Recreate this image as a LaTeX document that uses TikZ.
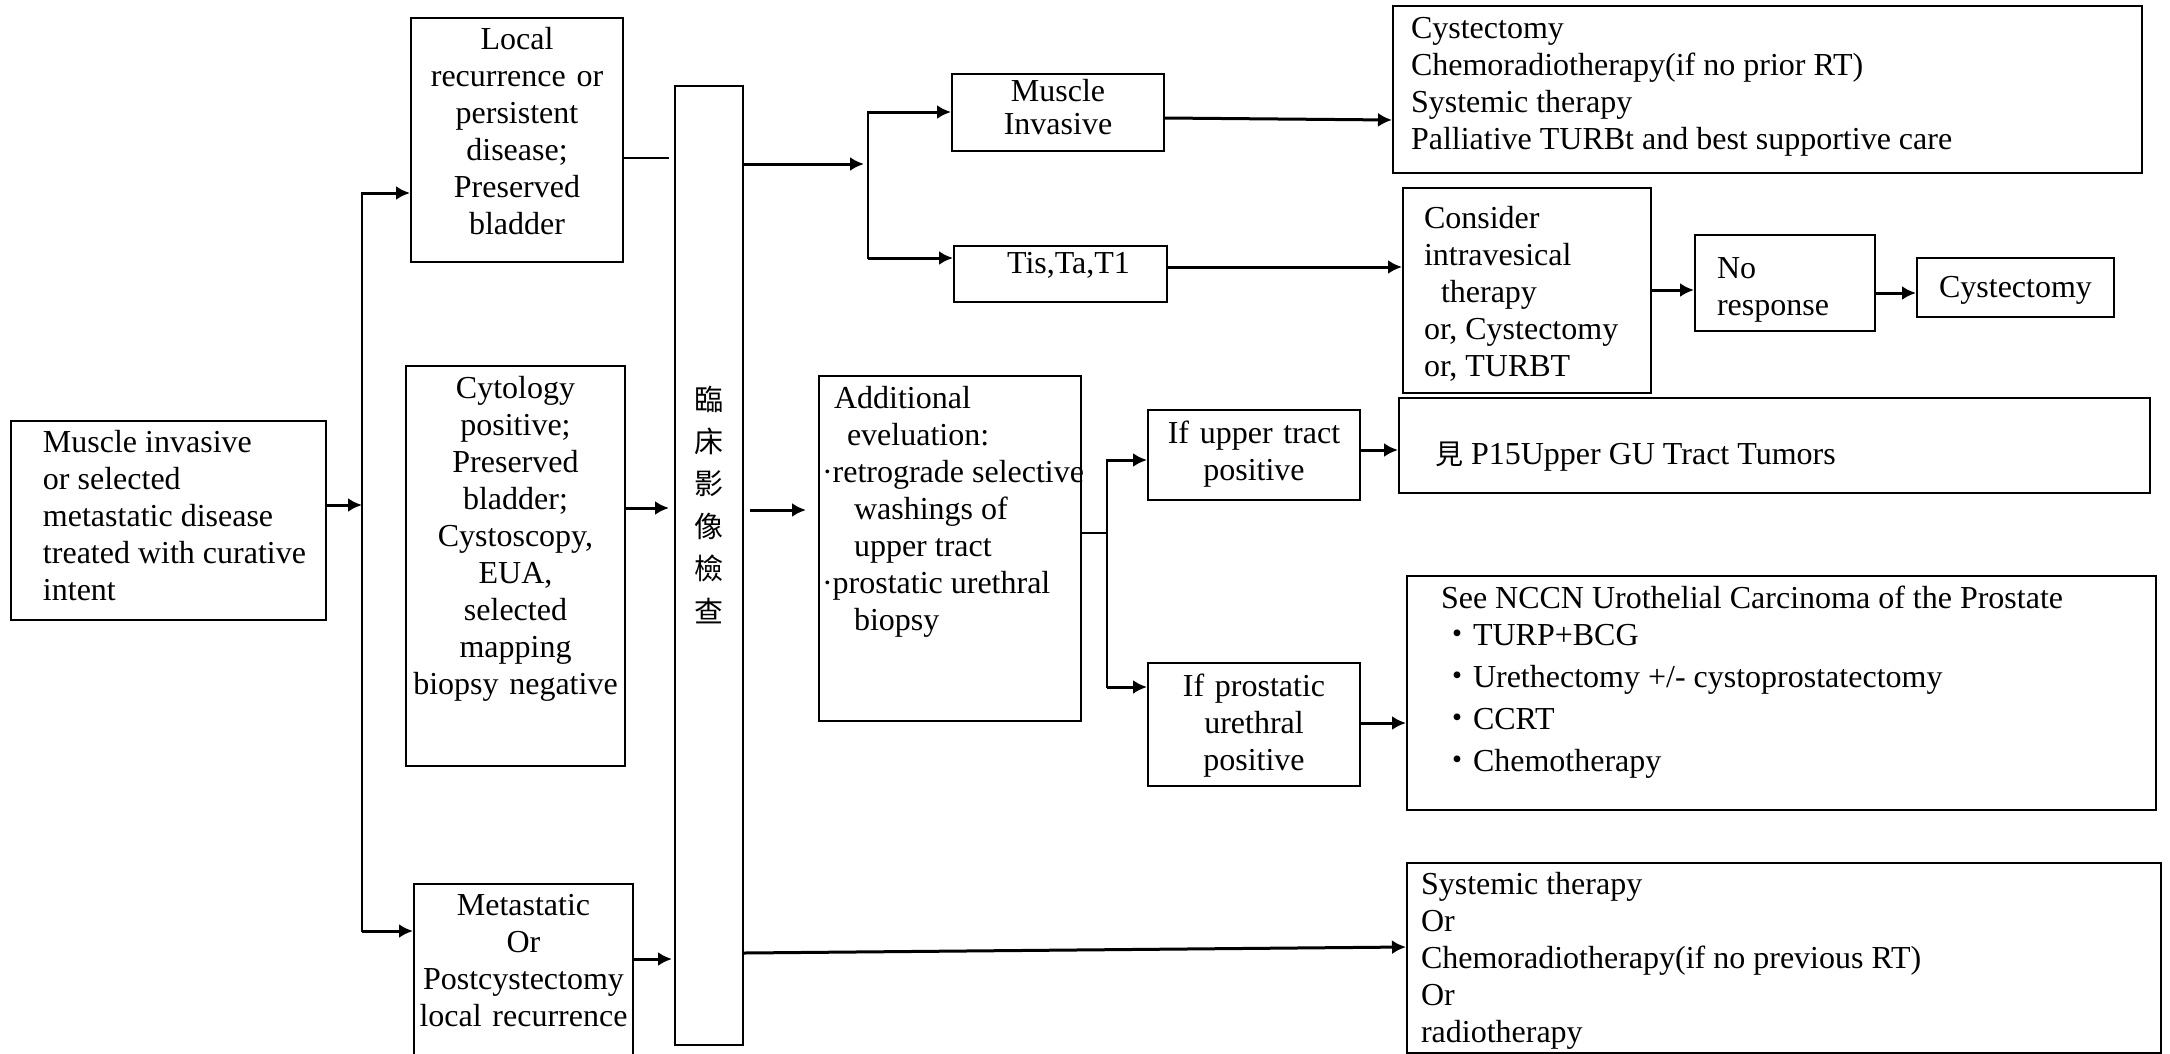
\documentclass[tikz,border=0pt]{standalone}
\usepackage{fontspec}
\setmainfont{Liberation Serif}
\newfontfamily\cjk{Noto Sans CJK TC}
\usetikzlibrary{arrows.meta}
\tikzstyle{box} = [draw, rectangle, line width=2pt, inner sep=0pt, anchor=north west]
\tikzstyle{leftbox} = [box, align=flush left]
\tikzstyle{midbox} = [box, align=center]
\tikzstyle{line} = [draw, line width=2.5pt, line cap=rect]
\tikzstyle{thinline} = [draw, line width=2pt]
\tikzstyle{arrowline} = [draw, line width=3pt, -{Latex[length=14pt,width=14pt]}]
\tikzset{pad/.style={execute at begin node={\leftskip=#1\relax}}}

\begin{document}
\begin{tikzpicture}[x=1pt, y=-1pt, font=\fontsize{32}{37}\selectfont]
	\path [use as bounding box, clip] (0,0) rectangle (2170,1053);
	
	% first column
	\node [leftbox, pad=32pt, text width=315pt, text height=31pt, text depth=168pt] (main) at (10,420)
	{Muscle invasive\\or selected\\metastatic disease\\treated with curative\\intent};
	
	\node [midbox, text width=212pt, text height=31pt, text depth=213pt] (local) at (410,17)
	{Local\\recurrence or\\persistent\\disease;\\Preserved\\bladder};
	\node [midbox, text width=219pt, text height=32pt, text depth=368pt] (cyt) at (405,365)
	{Cytology\\positive;\\Preserved\\bladder;\\Cystoscopy,\\EUA,\\selected\\mapping\\biopsy negative};
	\node [midbox, text width=219pt, text height=31pt, text depth=186pt] (meta) at (413,883)
	{Metastatic\\Or\\Postcystectomy\\local recurrence};
	
	\node [midbox, text width=68pt, text height=324pt, text depth=635pt, font={\fontsize{29}{42.4}\cjk}] (tall) at (674,85)
	{臨\\床\\影\\像\\檢\\查};
	
	% upper branch
	\node [midbox, text width=212pt, text height=27pt, text depth=50pt, font=\fontsize{32}{33}\selectfont] (mi) at (951,73)
	{Muscle\\Invasive};
	\node [midbox, text width=213pt, text height=27pt, text depth=29pt] (tis) at (953,245)
	{\hspace*{16pt}Tis,Ta,T1};
	\node [leftbox, pad=18pt, text width=749pt, text height=32pt, text depth=135pt] (cyst1) at (1392,5)
	{Cystectomy\\Chemoradiotherapy(if no prior RT)\\Systemic therapy\\Palliative TURBt and best supportive care};
	\node [leftbox, pad=21pt, text width=248pt, text height=40pt, text depth=165pt] (consider) at (1402,187)
	{Consider\\intravesical\\\hspace*{17pt}therapy\\or, Cystectomy\\or, TURBT};
	\node [leftbox, pad=22pt, text width=180pt, text height=43pt, text depth=53pt] (nores) at (1694,234)
	{No\\response};
	\node [midbox, text width=197pt, text height=39pt, text depth=20pt] (cyst2) at (1916,257)
	{Cystectomy};
	
	% middle branch
	\node [leftbox, pad=3pt, text width=262pt, text height=32pt, text depth=313pt] (addl) at (818,375)
	{\hspace*{12pt}Additional\\\hspace*{25pt}eveluation:\\\mbox{·retrograde selective}\\\hspace*{32pt}washings of\\\hspace*{32pt}upper tract\\·prostatic urethral\\\hspace*{32pt}biopsy};
	\node [midbox, text width=212pt, text height=33pt, text depth=57pt] (ifup) at (1147,409)
	{If upper tract\\positive};
	\node [midbox, text width=212pt, text height=33pt, text depth=90pt] (ifpro) at (1147,662)
	{If prostatic\\urethral\\positive};
	\node [leftbox, pad=36pt, text width=751pt, text height=66pt, text depth=29pt] (upgu) at (1398,397)
	{{\fontsize{28}{37}\cjk 見} P15Upper GU Tract Tumors};
	\node [leftbox, pad=34pt, text width=749pt, text height=32pt, text depth=202pt] (nccn) at (1406,575)
	{See NCCN Urothelial Carcinoma of the Prostate\\{\cjk ・}TURP+BCG\\[5pt]{\cjk ・}Urethectomy +/- cystoprostatectomy\\[5pt]{\cjk ・}CCRT\\[5pt]{\cjk ・}Chemotherapy};
	
	% lower branch
	\node [leftbox, pad=14pt, text width=754pt, text height=31pt, text depth=159pt] (sys) at (1406,862)
	{Systemic therapy\\Or\\Chemoradiotherapy(if no previous RT)\\Or\\radiotherapy};
	
	% forks
	\coordinate (fork1) at (362,505);
	\coordinate (fork1top) at (362,193);
	\coordinate (fork1bot) at (362,931);
	\coordinate (fork2) at (868,164);
	\coordinate (fork2top) at (868,112);
	\coordinate (fork2bot) at (868,258);
	\coordinate (fork3) at (1107,533);
	\coordinate (fork3top) at (1107,460);
	\coordinate (fork3bot) at (1107,687);
	
	\path [arrowline] (main.east |- fork1) -- (fork1);
	\path [line] (fork1top) -- (fork1bot);
	\path [arrowline] (fork1top) -- (fork1top -| local.west);
	\path [arrowline] (fork1bot) -- (fork1bot -| meta.west);
	
	\path [thinline, shorten >=5pt] (local.east |- 0,158) -- (tall.west |- 0,158);
	\path [arrowline, shorten >=5pt] (cyt.east |- 0,508) -- (tall.west |- 0,508);
	\path [arrowline, shorten >=2pt] (meta.east |- 0,959) -- (tall.west |- 0,959);
	
	\path [arrowline, shorten >=4pt] (tall.east |- fork2) -- (fork2);
	\path [line] (fork2top) -- (fork2bot);
	\path [arrowline] (fork2top) -- (fork2top -| mi.west);
	\path [arrowline] (fork2bot) -- (fork2bot -| tis.west);
	\path [arrowline] (mi.east |- 0,118) -- (cyst1.west |- 0,120);
	\path [arrowline] (tis.east |- 0,267) -- (consider.west |- 0,267);
	\path [arrowline] (consider.east |- 0,290) -- (nores.west |- 0,290);
	\path [arrowline] (nores.east |- 0,293) -- (cyst2.west |- 0,293);
	
	\path [arrowline, shorten <=6pt, shorten >=12pt] (tall.east |- 0,510) -- (addl.west |- 0,510);
	\path [thinline] (addl.east |- fork3) -- (fork3);
	\path [line] (fork3top) -- (fork3bot);
	\path [arrowline] (fork3top) -- (fork3top -| ifup.west);
	\path [arrowline] (fork3bot) -- (fork3bot -| ifpro.west);
	\path [arrowline] (ifup.east |- 0,450) -- (upgu.west |- 0,450);
	\path [arrowline] (ifpro.east |- 0,723) -- (nccn.west |- 0,723);
	
	\path [arrowline] (tall.east |- 0,953) -- (sys.west |- 0,947);
\end{tikzpicture}
\end{document}
